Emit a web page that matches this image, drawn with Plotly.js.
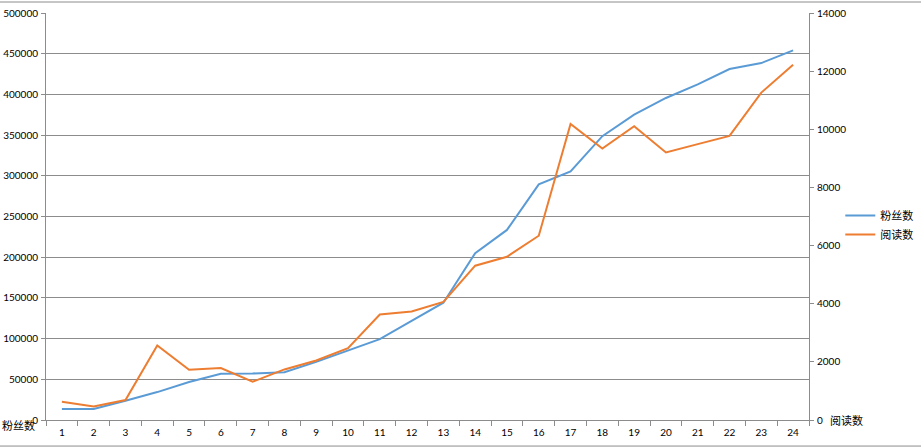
<!DOCTYPE html>
<html>
<head>
<meta charset="utf-8">
<script src="https://cdn.plot.ly/plotly-3.0.1.min.js"></script>
<style>
html,body{margin:0;padding:0;background:#fff;}
#chart{width:921px;height:448px;}
</style>
</head>
<body>
<div id="chart"></div>
<script>
var categories = ['1','2','3','4','5','6','7','8','9','10','11','12','13','14','15','16','17','18','19','20','21','22','23','24'];
var fansName = '粉丝数';
var readsName = '阅读数';
var fans = [13500,13500,23700,34300,46600,56700,57100,58800,71400,85300,99300,121700,144100,205000,233500,289500,305400,348700,375200,395600,412400,431100,438500,454000];
var reads = [629,467,687,2563,1728,1786,1316,1740,2048,2474,3628,3731,4064,5308,5617,6339,10186,9338,10107,9201,9489,9774,11262,12224];
var leftTicks = [0,50000,100000,150000,200000,250000,300000,350000,400000,450000,500000];
var rightTicks = [0,2000,4000,6000,8000,10000,12000,14000];

var axisColor = '#8c8c8c';
var gridColor = '#8c8c8c';
var numFont = {family: 'Lato, "Liberation Sans", sans-serif', size: 10, color: '#000'};
var cjkFont = {family: '"Noto Sans CJK SC", sans-serif', size: 11, color: '#000'};

var traces = [
  {x: categories, y: fans, name: fansName, type: 'scatter', mode: 'lines',
   line: {color: '#5B9BD5', width: 2}, yaxis: 'y'},
  {x: categories, y: reads, name: readsName, type: 'scatter', mode: 'lines',
   line: {color: '#ED7D31', width: 2}, yaxis: 'y2'}
];

var layout = {
  width: 921, height: 448,
  margin: {l: 46, r: 112, t: 13, b: 27.5, pad: 0, autoexpand: false},
  paper_bgcolor: '#fff', plot_bgcolor: '#fff',
  showlegend: true,
  legend: {x: 1.041, xanchor: 'left', y: 0.538, yanchor: 'top', font: cjkFont,
           bgcolor: 'rgba(0,0,0,0)', borderwidth: 0, tracegroupgap: 0},
  xaxis: {type: 'category', range: [-0.5, 23.5], tickson: 'boundaries', ticks: 'outside', ticklen: 5,
          tickcolor: axisColor, showgrid: false, showline: true, linecolor: axisColor,
          linewidth: 1, tickfont: numFont, zeroline: false, fixedrange: true,
          ticklabelstandoff: 3, automargin: false},
  yaxis: {range: [0, 500000], tickvals: leftTicks, ticktext: leftTicks.map(String),
          ticks: 'outside', ticklen: 4, tickcolor: axisColor, showgrid: true,
          gridcolor: gridColor, gridwidth: 1, showline: true, linecolor: axisColor,
          linewidth: 1, tickfont: numFont, zeroline: false, ticklabelstandoff: 1, automargin: false},
  yaxis2: {range: [0, 14000], tickvals: rightTicks, ticktext: rightTicks.map(String),
           overlaying: 'y', side: 'right', ticks: 'outside', ticklen: 4,
           tickcolor: axisColor, showgrid: false, showline: true, linecolor: axisColor,
           linewidth: 1, tickfont: numFont, zeroline: false, ticklabelstandoff: 1, automargin: false},
  annotations: [
    {text: fansName, xref: 'paper', yref: 'paper', x: -0.036, y: -0.012,
     xanchor: 'center', yanchor: 'middle', showarrow: false, font: cjkFont},
    {text: readsName, xref: 'paper', yref: 'paper', x: 1.025, y: 0.0,
     xanchor: 'left', yanchor: 'middle', showarrow: false, font: cjkFont}
  ],
  shapes: [
    {type: 'line', xref: 'paper', yref: 'paper', x0: -0.07, x1: 1.16, y0: 1.027, y1: 1.027,
     line: {color: axisColor, width: 1}},
    {type: 'line', xref: 'paper', yref: 'paper', x0: -0.07, x1: 1.16, y0: -0.064, y1: -0.064,
     line: {color: axisColor, width: 1}}
  ]
};

Plotly.newPlot('chart', traces, layout, {displayModeBar: false, staticPlot: true});
</script>
</body>
</html>
